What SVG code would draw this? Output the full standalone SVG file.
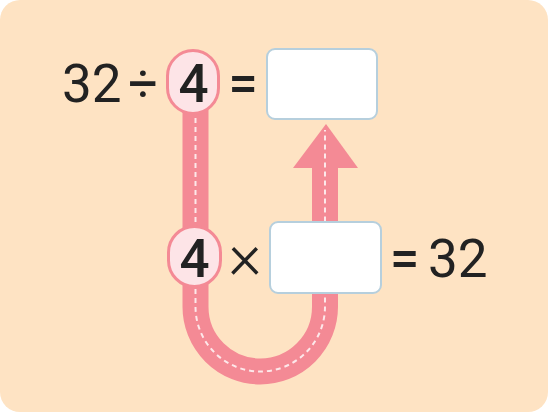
<svg xmlns="http://www.w3.org/2000/svg" width="548" height="412" viewBox="0 0 548 412">
  <style>
    .num { font-family: Roboto, "Liberation Sans", sans-serif; font-size: 53px; fill: #222222; }
    .bold { font-weight: 500; }
    .op { font-family: Roboto, "Liberation Sans", sans-serif; font-size: 52px; fill: #222222; }
    .thin { font-size: 64px; font-weight: 300; }
    .box { fill: #FFFFFF; stroke: #B6CFDD; stroke-width: 2; }
    .oval { fill: #FDE4E7; stroke: #F48A95; stroke-width: 3; }
    .band { fill: none; stroke: #F48A95; stroke-width: 26; }
    .dash { fill: none; stroke: #FFFFFF; stroke-opacity: 0.8; stroke-width: 2; stroke-dasharray: 5 4; }
  </style>
  <rect x="0" y="0" width="548" height="412" rx="20" ry="20" fill="#FEE3C3"/>

  <g id="connectors">
    <path class="band" d="M195.5 110 V306.75 A64.75 64.75 0 0 0 325 306.75 V166"/>
    <polygon points="326,124 358,168 293,168" fill="#F48A95"/>
    <path class="dash" d="M195.5 118 V306.75 A64.75 64.75 0 0 0 325 306.75 V130"/>
  </g>

  <g id="top-row">
    <text class="num" x="62" y="102">32</text>
    <text class="op" x="143" y="101" text-anchor="middle">÷</text>
    <text class="op bold" x="243" y="101" text-anchor="middle">=</text>
  </g>

  <g id="oval-top">
    <rect class="oval" x="167.5" y="50.5" width="51" height="63" rx="25.5" ry="25.5"/>
    <text class="num bold" x="193.5" y="102" text-anchor="middle">4</text>
  </g>

  <g id="box-top">
    <rect class="box" x="267" y="49" width="110" height="70" rx="8" ry="8"/>
  </g>

  <g id="oval-bottom">
    <rect class="oval" x="168.5" y="226.5" width="52" height="60" rx="26" ry="26"/>
    <text class="num bold" x="194.5" y="277" text-anchor="middle">4</text>
  </g>

  <g id="bottom-row">
    <text class="op thin" x="245" y="278" text-anchor="middle">×</text>
    <text class="op bold" x="404.5" y="276" text-anchor="middle">=</text>
    <text class="num" x="428" y="277">32</text>
  </g>

  <g id="box-bottom">
    <rect class="box" x="270" y="222" width="111" height="71" rx="8" ry="8"/>
  </g>
</svg>
